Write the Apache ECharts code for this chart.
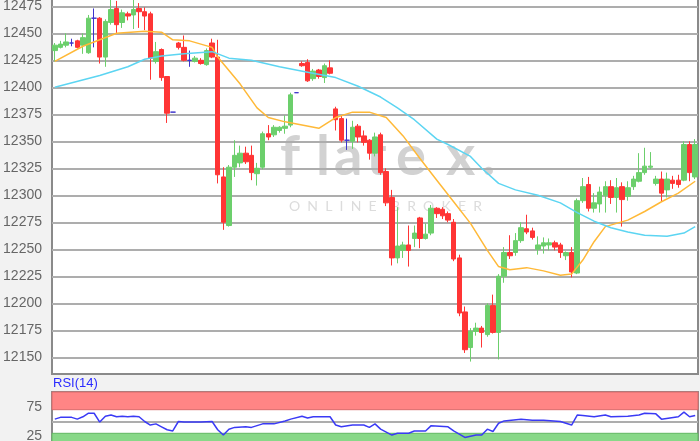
<!DOCTYPE html>
<html>
<head>
<meta charset="utf-8">
<script src="https://cdn.jsdelivr.net/npm/echarts@6/dist/echarts.min.js"></script>
<style>
html, body { margin: 0; padding: 0; background: #f2f2f2; }
#chart { width: 700px; height: 441px; }
</style>
</head>
<body>
<div id="chart"></div>
<script>
// OHLC per candle
const opens = [12434, 12437, 12439, 12441, 12443, 12439, 12432, 12464, 12464, 12428,
  12460, 12473, 12460, 12468, 12467, 12473, 12470, 12468, 12424, 12435,
  12410, 12377, 12441, 12437, 12425, 12424, 12425, 12421, 12441, 12428,
  12317, 12272, 12326, 12330, 12339, 12337, 12320, 12326, 12357, 12356,
  12360, 12362, 12365, 12395, 12422, 12423, 12408, 12416, 12409, 12418,
  12380, 12371, 12351, 12350, 12364, 12355, 12351, 12339, 12356, 12322,
  12298, 12242, 12249, 12254, 12260, 12279, 12260, 12265, 12288, 12287,
  12283, 12275, 12242, 12192, 12159, 12174, 12177, 12171, 12198, 12173,
  12225, 12247, 12247, 12258, 12269, 12267, 12250, 12253, 12254, 12256,
  12254, 12244, 12247, 12228, 12295, 12310, 12288, 12292, 12300, 12308,
  12298, 12308, 12299, 12308, 12313, 12321, 12326, 12311, 12315, 12305,
  12314, 12314, 12314, 12347, 12317];
const closes = [12439, 12440, 12442, 12441, 12437, 12446, 12464, 12464, 12428, 12461,
  12472, 12458, 12469, 12466, 12472, 12470, 12466, 12427, 12433, 12409,
  12376, 12377, 12437, 12425, 12425, 12427, 12422, 12434, 12428, 12319,
  12275, 12326, 12337, 12339, 12331, 12321, 12325, 12357, 12354, 12363,
  12363, 12364, 12393, 12395, 12420, 12406, 12415, 12410, 12420, 12413,
  12370, 12351, 12351, 12363, 12354, 12349, 12339, 12354, 12321, 12293,
  12242, 12253, 12254, 12249, 12265, 12260, 12264, 12288, 12283, 12281,
  12277, 12241, 12191, 12157, 12174, 12177, 12173, 12198, 12173, 12225,
  12247, 12244, 12258, 12270, 12266, 12261, 12254, 12256, 12256, 12252,
  12247, 12247, 12229, 12295, 12308, 12288, 12293, 12303, 12308, 12298,
  12307, 12296, 12307, 12315, 12321, 12327, 12327, 12315, 12302, 12315,
  12311, 12310, 12347, 12321, 12347];
const lows = [12424, 12436, 12437, 12438, 12436, 12431, 12431, 12437, 12422, 12419,
  12458, 12450, 12455, 12462, 12454, 12455, 12453, 12407, 12422, 12406,
  12367, 12377, 12435, 12424, 12419, 12423, 12421, 12420, 12427, 12311,
  12268, 12271, 12317, 12326, 12329, 12314, 12309, 12324, 12351, 12354,
  12358, 12357, 12363, 12395, 12419, 12405, 12406, 12408, 12404, 12412,
  12360, 12349, 12342, 12343, 12349, 12346, 12333, 12336, 12319, 12290,
  12235, 12237, 12242, 12234, 12252, 12251, 12259, 12263, 12279, 12278,
  12275, 12239, 12188, 12154, 12146, 12170, 12159, 12169, 12172, 12148,
  12219, 12241, 12244, 12256, 12264, 12259, 12245, 12246, 12249, 12249,
  12242, 12240, 12224, 12227, 12293, 12285, 12284, 12284, 12284, 12292,
  12284, 12271, 12295, 12305, 12312, 12319, 12324, 12309, 12294, 12298,
  12306, 12307, 12313, 12313, 12315];
const highs = [12441, 12443, 12450, 12445, 12444, 12450, 12467, 12473, 12465, 12463,
  12481, 12480, 12472, 12470, 12481, 12478, 12474, 12470, 12442, 12436,
  12410, 12377, 12442, 12448, 12434, 12429, 12427, 12436, 12445, 12444,
  12326, 12328, 12351, 12346, 12345, 12346, 12330, 12359, 12365, 12365,
  12364, 12374, 12395, 12395, 12424, 12426, 12417, 12417, 12422, 12425,
  12382, 12374, 12371, 12369, 12366, 12360, 12352, 12358, 12358, 12325,
  12305, 12289, 12257, 12272, 12272, 12280, 12274, 12291, 12289, 12289,
  12285, 12278, 12245, 12197, 12177, 12182, 12179, 12200, 12208, 12227,
  12252, 12263, 12265, 12275, 12282, 12270, 12262, 12261, 12260, 12258,
  12256, 12248, 12252, 12297, 12316, 12317, 12302, 12308, 12313, 12314,
  12316, 12312, 12313, 12318, 12339, 12344, 12340, 12318, 12322, 12321,
  12318, 12319, 12350, 12350, 12352];

// moving averages and RSI as [candle index, value], read where the line was visible
const maFast = [[0, 12424], [5, 12438], [8, 12444], [11, 12450], [16, 12452], [19, 12451],
  [21, 12444], [24, 12443], [28, 12437], [29, 12428], [33, 12403], [36, 12381], [38, 12372],
  [41, 12368], [44, 12365], [47, 12362], [50, 12372], [53, 12377], [56, 12377], [59, 12372],
  [62, 12355], [65, 12334], [68, 12314], [71, 12294], [74, 12274], [77, 12249], [79, 12234],
  [81, 12231], [84, 12233], [87, 12230], [90, 12226], [92, 12227], [94, 12240], [96, 12257],
  [98, 12271], [102, 12277], [105, 12285], [108, 12294], [111, 12302], [114, 12313]];
const maSlow = [[0, 12400], [8, 12411], [13, 12419], [16, 12426], [19, 12429], [23, 12431],
  [28, 12433], [31, 12427], [35, 12425], [40, 12419], [45, 12414], [50, 12409], [54, 12401],
  [58, 12391], [61, 12381], [64, 12370], [68, 12352], [70, 12347], [74, 12336], [76, 12325],
  [79, 12311], [82, 12305], [86, 12300], [90, 12293], [93, 12284], [96, 12276], [99, 12270],
  [102, 12266], [105, 12263], [109, 12262], [112, 12265], [114, 12271]];
const rsi = [[0, 54], [1, 57], [3, 57], [4, 54], [5, 58], [6, 64], [7, 64], [8, 49], [9, 59],
  [10, 61], [11, 58], [12, 59], [13, 58], [14, 59], [15, 58], [16, 50], [17, 44], [18, 46],
  [19, 41], [20, 36], [21, 34], [22, 50], [23, 49], [26, 49], [28, 50], [29, 36], [30, 27],
  [31, 37], [32, 40], [34, 41], [35, 40], [37, 46], [39, 46], [41, 51], [42, 54], [44, 59],
  [45, 56], [46, 58], [49, 58], [50, 44], [51, 41], [53, 44], [55, 44], [56, 40], [57, 46],
  [58, 37], [60, 27], [61, 30], [63, 30], [64, 34], [66, 34], [67, 43], [70, 41], [71, 34],
  [73, 23], [75, 27], [76, 27], [77, 37], [78, 33], [79, 47], [80, 51], [83, 54], [85, 52],
  [87, 52], [90, 50], [92, 44], [93, 61], [94, 60], [96, 58], [98, 61], [99, 58], [102, 59],
  [104, 61], [105, 64], [107, 63], [108, 54], [111, 58], [112, 66], [113, 58], [114, 60]];

const priceTicks = [12150, 12175, 12200, 12225, 12250, 12275, 12300, 12325, 12350, 12375, 12400, 12425, 12450, 12475];
const rsiTicks = [25, 75];
const rsiMid = [50];
const rsiHigh = [70, 100];
const rsiLow = [0, 30];

const categories = opens.map((_, i) => String(i));

var candles = opens.map(function (o, i) {
  var item = { value: [o, closes[i], lows[i], highs[i]] };
  if (o === closes[i]) {
    item.itemStyle = { color: '#3d33cc', color0: '#3d33cc', borderColor: '#3d33cc', borderColor0: '#3d33cc' };
  }
  return item;
});

var plain = function (v) { return String(v); };
var wm = 'bold 56px Lato';

var myChart = echarts.init(document.getElementById('chart'));

myChart.setOption({
  animation: false,
  backgroundColor: '#f2f2f2',
  textStyle: { fontFamily: 'Liberation Sans' },
  grid: [
    { left: 52, right: 2, top: -2, height: 376, outerBoundsMode: 'none', show: true, backgroundColor: '#fff', borderColor: '#8a8a8a', borderWidth: 2 },
    { left: 52, right: 2, top: 392, height: 59, outerBoundsMode: 'none', show: true, backgroundColor: '#fff', borderColor: '#8a8a8a', borderWidth: 2 }
  ],
  graphic: [
    {
      type: 'group',
      z: 1,
      silent: true,
      children: [
        { type: 'text', left: 280, top: 129, style: { text: 'f', font: wm, fill: '#d2d2d2' } },
        { type: 'text', left: 316, top: 129, style: { text: 'l', font: wm, fill: '#d2d2d2' } },
        { type: 'text', left: 334, top: 129, style: { text: 'a', font: wm, fill: '#d2d2d2' } },
        { type: 'text', left: 366, top: 129, style: { text: 't', font: wm, fill: '#d2d2d2' } },
        { type: 'text', left: 396, top: 129, style: { text: 'e', font: wm, fill: '#d2d2d2' } },
        { type: 'text', left: 446, top: 129, style: { text: 'x', font: wm, fill: '#d2d2d2' } },
        { type: 'text', left: 482, top: 129, style: { text: '.', font: wm, fill: '#d2d2d2' } },
        { type: 'text', left: 289, top: 199, style: { text: 'O  N  L  I  N  E    B  R  O  K  E  R', font: '14px Lato', fill: '#dcdcdc' } }
      ]
    },
    {
      type: 'text',
      left: 53,
      top: 377,
      style: { text: 'RSI(14)', font: '13px Liberation Sans', fill: '#2b2bff' }
    }
  ],
  xAxis: [
    { type: 'category', gridIndex: 0, data: categories, show: false },
    { type: 'category', gridIndex: 1, data: categories, show: false }
  ],
  yAxis: [
    {
      type: 'value',
      gridIndex: 0,
      min: 12134.5,
      max: 12482.7,
      axisLine: { show: false },
      axisTick: { show: false, customValues: priceTicks },
      axisLabel: { customValues: priceTicks, formatter: plain, color: '#666', fontSize: 14, margin: 10 },
      splitLine: { show: true, lineStyle: { color: '#adadad', width: 2 } }
    },
    {
      type: 'value',
      gridIndex: 1,
      min: 0,
      max: 100,
      axisLine: { show: false },
      axisTick: { show: false, customValues: rsiMid },
      axisLabel: { customValues: rsiTicks, formatter: plain, color: '#666', fontSize: 14, margin: 10 },
      splitLine: { show: true, lineStyle: { color: '#adadad', width: 2 } }
    }
  ],
  series: [
    {
      name: 'Kurs',
      type: 'candlestick',
      xAxisIndex: 0,
      yAxisIndex: 0,
      barWidth: 5,
      data: candles,
      itemStyle: {
        color: '#6ccf6c',
        color0: '#ff3535',
        borderColor: '#6ccf6c',
        borderColor0: '#ff3535',
        borderWidth: 1
      }
    },
    {
      name: 'MA kurz',
      type: 'line',
      xAxisIndex: 0,
      yAxisIndex: 0,
      data: maFast,
      symbol: 'none',
      lineStyle: { color: '#ffb938', width: 1.5 }
    },
    {
      name: 'MA lang',
      type: 'line',
      xAxisIndex: 0,
      yAxisIndex: 0,
      data: maSlow,
      symbol: 'none',
      lineStyle: { color: '#5cd5f2', width: 1.5 }
    },
    {
      name: 'RSI(14)',
      type: 'line',
      xAxisIndex: 1,
      yAxisIndex: 1,
      data: rsi,
      symbol: 'none',
      lineStyle: { color: '#3a3af5', width: 1.5 },
      markArea: {
        silent: true,
        data: [
          [{ yAxis: rsiHigh[0], itemStyle: { color: '#ff8585', borderColor: '#d96b6b', borderWidth: 1 } }, { yAxis: rsiHigh[1] }],
          [{ yAxis: rsiLow[0], itemStyle: { color: '#88d888', borderColor: '#62b862', borderWidth: 1 } }, { yAxis: rsiLow[1] }]
        ]
      }
    }
  ]
});
</script>
</body>
</html>
